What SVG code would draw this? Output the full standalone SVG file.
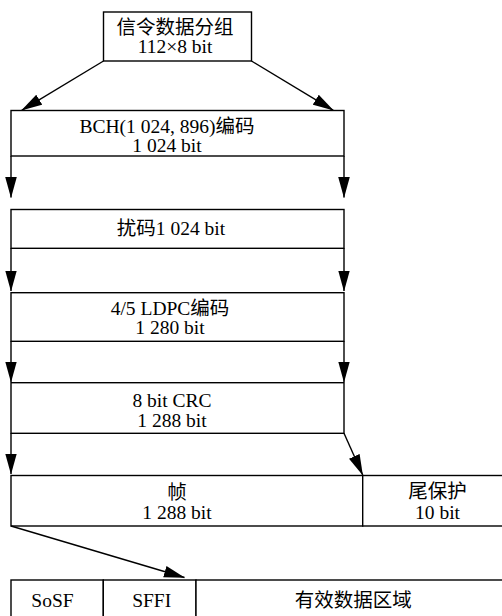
<svg xmlns="http://www.w3.org/2000/svg" width="502" height="616" viewBox="0 0 502 616">
<style>
.box{fill:#fff;stroke:#000;stroke-width:1.4}
.ln{fill:none;stroke:#000;stroke-width:1.4}
text{font-family:"Liberation Serif","Noto Sans CJK SC",serif;font-size:19.5px;fill:#000;text-anchor:middle}
</style>
<defs>
<marker id="ah" markerUnits="userSpaceOnUse" markerWidth="21" markerHeight="12" viewBox="0 0 21 12" refX="20.5" refY="6" orient="auto">
<path d="M0,0.2 L21,6 L0,11.8 z" fill="#000"/>
</marker>
</defs>
<g id="src">
<rect class="box" x="103.5" y="12" width="148" height="49"/>
<text x="175" y="33.5">信令数据分组</text>
<text x="175" y="53">112×8 bit</text>
</g>
<g id="bch">
<rect class="box" x="11" y="110.5" width="333" height="45.5"/>
<text x="167" y="133">BCH(1 024, 896)编码</text>
<text x="167" y="152">1 024 bit</text>
</g>
<g id="scramble">
<rect class="box" x="11" y="209.5" width="333" height="38.8"/>
<text x="171" y="235">扰码1 024 bit</text>
</g>
<g id="ldpc">
<rect class="box" x="11" y="292.7" width="333" height="48.6"/>
<text x="170" y="314.5">4/5 LDPC编码</text>
<text x="170" y="334">1 280 bit</text>
</g>
<g id="crc">
<rect class="box" x="11" y="382.7" width="333" height="50.6"/>
<text x="172" y="406.5">8 bit CRC</text>
<text x="172" y="426.5">1 288 bit</text>
</g>
<g id="frame">
<rect class="box" x="11" y="475.5" width="351.7" height="50.5"/>
<text x="177" y="498.5">帧</text>
<text x="177" y="519">1 288 bit</text>
</g>
<g id="tail">
<rect class="box" x="362.7" y="475.5" width="150" height="50.5"/>
<text x="437.5" y="497.5">尾保护</text>
<text x="437.5" y="519">10 bit</text>
</g>
<g id="sosf">
<rect class="box" x="11" y="580" width="92.3" height="50"/>
<text x="52.5" y="606.5">SoSF</text>
</g>
<g id="sffi">
<rect class="box" x="103.3" y="580" width="92.7" height="50"/>
<text x="151.7" y="606.5">SFFI</text>
</g>
<g id="payload">
<rect class="box" x="196" y="580" width="320" height="50"/>
<text x="353.3" y="606.5">有效数据区域</text>
</g>
<g id="connectors">
<line class="ln" x1="103.5" y1="61" x2="21.7" y2="110.3" marker-end="url(#ah)"/>
<line class="ln" x1="251.5" y1="61" x2="333.3" y2="110.3" marker-end="url(#ah)"/>
<line class="ln" x1="11" y1="156" x2="11" y2="197.5" marker-end="url(#ah)"/>
<line class="ln" x1="344" y1="156" x2="344" y2="197.5" marker-end="url(#ah)"/>
<line class="ln" x1="11" y1="248.3" x2="11" y2="291" marker-end="url(#ah)"/>
<line class="ln" x1="344" y1="248.3" x2="344" y2="291" marker-end="url(#ah)"/>
<line class="ln" x1="11" y1="341.3" x2="11" y2="382" marker-end="url(#ah)"/>
<line class="ln" x1="344" y1="341.3" x2="344" y2="382" marker-end="url(#ah)"/>
<line class="ln" x1="11" y1="433.3" x2="11" y2="474" marker-end="url(#ah)"/>
<line class="ln" x1="344" y1="433.3" x2="362.7" y2="475" marker-end="url(#ah)"/>
<line class="ln" x1="11" y1="526" x2="184.5" y2="577.5" marker-end="url(#ah)"/>
</g>
</svg>
